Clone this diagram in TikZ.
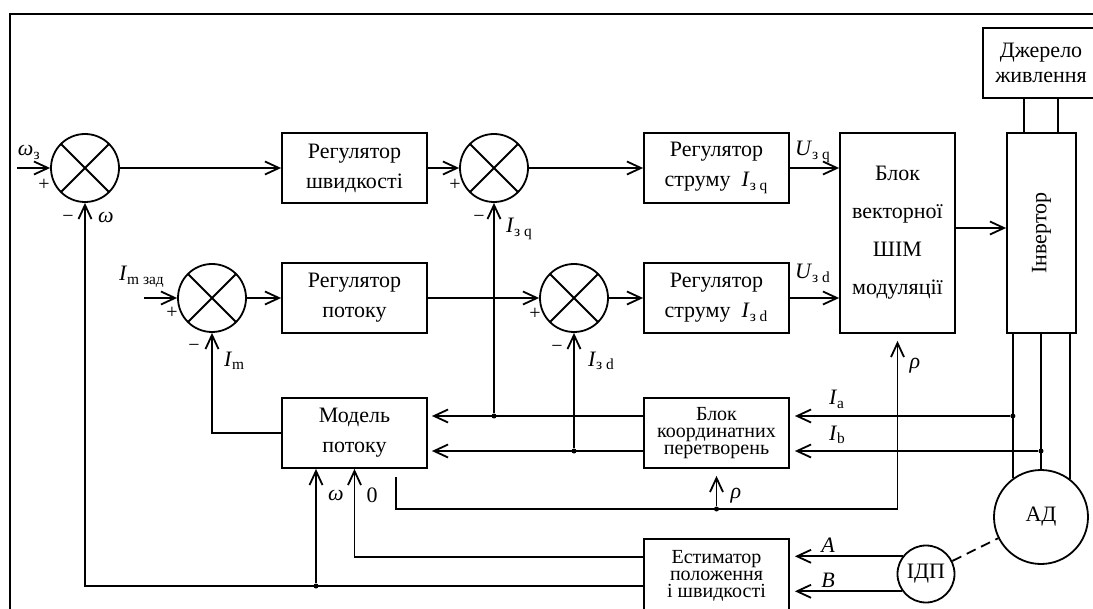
\documentclass[tikz,border=0pt]{standalone}
\usepackage{fontspec}
\setmainfont{Liberation Serif}
\usepackage{graphicx}
\usetikzlibrary{arrows.meta,calc}
\newcommand{\fR}{\fontsize{11}{15}\selectfont}
\newcommand{\fK}{\fontsize{10}{8.5}\selectfont\lineskiplimit=-20pt}
\newcommand{\fS}{\fontsize{10}{12}\selectfont}
\newcommand{\lab}[2]{\textit{#1}\textsubscript{#2}}
\tikzset{every node/.style={font=\fR},
  blk/.style={draw,line width=0.9pt,minimum width=72.5pt,minimum height=35pt,
    inner sep=0pt,align=center},
  summer/.style={circle,draw,line width=0.9pt,minimum size=34pt,inner sep=0pt,
    path picture={\draw[line width=0.9pt]
      (path picture bounding box.north west) -- (path picture bounding box.south east)
      (path picture bounding box.north east) -- (path picture bounding box.south west);}},
  lbl/.style={inner sep=0pt,outer sep=0pt}}

\begin{document}
\begin{tikzpicture}[x=0.5pt,y=-0.5pt,
    lnk/.style={line width=0.9pt},
    arr/.style={lnk,-{Straight Barb[length=7pt,width=6.5pt,line width=0.9pt]}},
    gap/.style={arr,shorten >=#1}, gap/.default=2.5pt,
    junc/.style={circle,fill,inner sep=0pt,minimum size=2.5pt},
    frm/.style={line width=1.1pt}]
  \path[use as bounding box] (0,0) rectangle (1093,609);
  \clip (0,0) rectangle (1093,609);

  % Frame
  \draw[frm] (10,615) -- (10,14) -- (1100,14);

  % Summing points
  \node[summer] (s1) at (85,168) {};
  \node[summer] (s2) at (494,168) {};
  \node[summer] (s3) at (574,298) {};
  \node[summer] (s4) at (212,298) {};

  % Blocks
  \node[blk] (rs) at (354.5,168) {Регулятор\\швидкості};
  \node[blk] (rp) at (354.5,298) {Регулятор\\потоку};
  \node[blk] (rcq) at (716.5,168) {Регулятор\\струму~~\lab{I}{з q}};
  \node[blk] (rcd) at (716.5,298) {Регулятор\\струму~~\lab{I}{з d}};
  \node[blk,minimum width=57.5pt,minimum height=100pt,
    font=\fontsize{11}{19}\selectfont] (pwm) at (897.5,233)
    {Блок\\векторної\\ШІМ\\модуляції};
  \node[blk,minimum width=58pt,font=\fontsize{11}{12.5}\selectfont] (src)
    at (1041,63) {Джерело\\живлення};
  \node[blk,minimum width=34.5pt,minimum height=100pt] (inv) at (1041.5,233)
    {\rotatebox{90}{Інвертор}};
  \node[blk] (mdl) at (354.5,433) {Модель\\потоку};
  \node[blk,font=\fK] (kt) at (716.5,433) {Блок\\координатних\\перетворень};
  \node[blk,minimum height=36.5pt,font=\fK] (est) at (716.5,575.5)
    {Естиматор\\положення\\і швидкості};
  \node[circle,draw,line width=0.9pt,minimum size=47pt,inner sep=0pt] (ad)
    at (1041,517) {АД};
  \node[circle,draw,line width=0.9pt,minimum size=28.5pt,inner sep=0pt] (idp)
    at (926,574) {ІДП};

  % Forward path
  \coordinate (win) at (17,168);
  \coordinate (imin) at (144,298);
  \draw[arr] (win) -- (s1.west);
  \draw[arr] (s1.east) -- (rs.west);
  \draw[arr] (rs.east) -- (s2.west);
  \draw[arr] (s2.east) -- (rcq.west);
  \draw[arr] (rcq.east) -- (rcq.east -| pwm.west);
  \draw[arr] (imin) -- (s4.west);
  \draw[arr] (s4.east) -- (rp.west);
  \draw[arr] (rp.east) -- (s3.west);
  \draw[arr] (s3.east) -- (rcd.west);
  \draw[arr] (rcd.east) -- (rcd.east -| pwm.west);
  \draw[arr] ([yshift=2.5pt]pwm.east) -- ([yshift=2.5pt]inv.west);

  % Power part
  \draw[lnk] ([xshift=-8.75pt]inv.north) -- ([xshift=-8.75pt]inv.north |- src.south);
  \draw[lnk] ([xshift=8.25pt]inv.north) -- ([xshift=8.25pt]inv.north |- src.south);
  \draw[lnk] (ad.126.6 |- inv.south) -- (ad.126.6);
  \draw[lnk] (ad.north |- inv.south) -- (ad.north);
  \draw[lnk] (ad.53.4 |- inv.south) -- (ad.53.4);
  \draw[lnk,dash pattern=on 5pt off 3pt] (idp) -- (ad);

  % Current feedback
  \coordinate (ya) at (0,416);
  \coordinate (yb) at (0,451);
  \node[junc] (jia) at (ad.126.6 |- ya) {};
  \node[junc] (jib) at (ad.north |- yb) {};
  \draw[gap] (jia) -- (jia -| kt.east);
  \draw[gap] (jib) -- (jib -| kt.east);
  \draw[gap=2pt] (kt.west |- ya) -- (mdl.east |- ya);
  \draw[gap=2pt] (kt.west |- yb) -- (mdl.east |- yb);
  \node[junc] (jiq) at (s2.south |- ya) {};
  \node[junc] (jid) at (s3.south |- yb) {};
  \draw[arr] (jiq) -- (s2.south);
  \draw[arr] (jid) -- (s3.south);
  \draw[arr] (mdl.west) -| (s4.south);

  % Angle rho
  \coordinate (yr) at (0,509);
  \coordinate (r0) at ([xshift=20.75pt,yshift=-4pt]mdl.south);
  \draw[gap=3.5pt] (r0) |- (yr -| pwm.south) -- (pwm.south);
  \node[junc] (jr) at (yr -| kt.south) {};
  \draw[gap=3.5pt] (jr) -- (kt.south);

  % Estimator outputs
  \coordinate (y0) at (0,557);
  \coordinate (yw) at (0,586);
  \coordinate (wx) at ([xshift=-19.25pt]mdl.south);
  \draw[arr] (est.west |- y0) -| (mdl.south);
  \draw[arr] (est.west |- yw) -| (s1.south);
  \node[junc] (jw) at (wx |- yw) {};
  \draw[arr] (jw) -- (wx);
  \draw[gap] (idp.143.4) -- (idp.143.4 -| est.east);
  \draw[gap] (idp.216.6) -- (idp.216.6 -| est.east);

  % Signal labels
  \node[lbl,anchor=base west] (l-wz) at (18,156) {\lab{ω}{з}};
  \node[lbl,anchor=base west] (l-w1) at (98,223) {\textit{ω}};
  \node[lbl,anchor=base west] (l-imz) at (119,281) {\lab{I}{m зад}};
  \node[lbl,anchor=base west] (l-im) at (224,366) {\lab{I}{m}};
  \node[lbl,anchor=base west] (l-iq) at (506,233) {\lab{I}{з q}};
  \node[lbl,anchor=base west] (l-id) at (588,366) {\lab{I}{з d}};
  \node[lbl,anchor=base west] (l-uq) at (795,156) {\lab{U}{з q}};
  \node[lbl,anchor=base west] (l-ud) at (795,279) {\lab{U}{з d}};
  \node[lbl,anchor=base west] (l-ia) at (829,405) {\lab{I}{a}};
  \node[lbl,anchor=base west] (l-ib) at (829,440) {\lab{I}{b}};
  \node[lbl] (l-r1) at (915,366) {\textit{ρ}};
  \node[lbl] (l-r2) at (736,496) {\textit{ρ}};
  \node[lbl] (l-w2) at (336,495) {\textit{ω}};
  \node[lbl] (l-0) at (372,495) {0};
  \node[lbl] (l-a) at (828,545) {\textit{A}};
  \node[lbl] (l-b) at (828,580) {\textit{B}};

  % Signs at summing points
  \node[lbl,font=\fS] (p1) at (44,185) {+};
  \node[lbl,font=\fS] (m1) at (68,219) {−};
  \node[lbl,font=\fS] (p2) at (455,185) {+};
  \node[lbl,font=\fS] (m2) at (479,219) {−};
  \node[lbl,font=\fS] (p3) at (535,314) {+};
  \node[lbl,font=\fS] (m3) at (557,349) {−};
  \node[lbl,font=\fS] (p4) at (172,313) {+};
  \node[lbl,font=\fS] (m4) at (194,348) {−};
\end{tikzpicture}
\end{document}
